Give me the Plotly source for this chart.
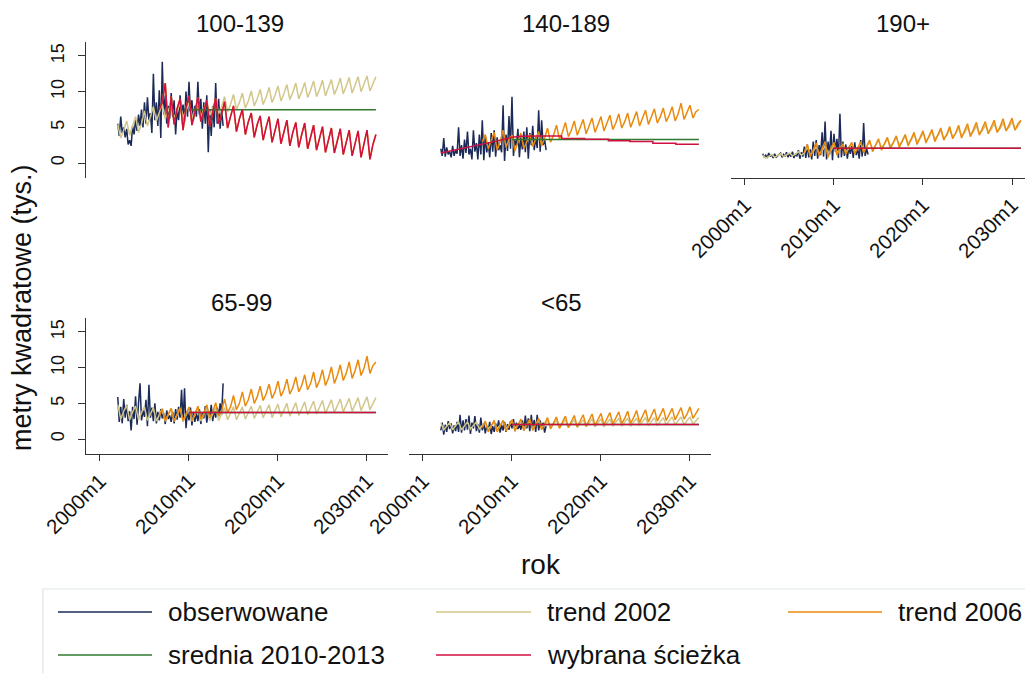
import plotly.graph_objects as go

# ---------------------------------------------------------------------------
# Data: monthly housing area (thousand m2) by size class, observed + scenarios
# observed series: every 2 months from 2002m1; trends: every 4 months
# ---------------------------------------------------------------------------
panels = ["100-139", "140-189", "190+", "65-99", "<65"]

obs_start, obs_step = "2002m1", 2
t2002_start, t2002_step = "2002m1", 4
t2006_start, t2006_step = "2006m9", 4
srednia_dates = ["2010m1", "2031m1"]

obs_100_139 = [5.5, 3.8, 6.5, 4.2, 5.0, 3.6, 4.8, 2.6, 3.2, 2.4, 5.2, 4.0,
               6.0, 4.5, 6.8, 5.2, 7.5, 5.0, 8.5, 5.5, 9.2, 6.0, 7.0, 4.2,
               12.5, 6.0, 8.5, 5.2, 10.2, 3.5, 14.2, 6.8, 9.5, 5.5, 8.0, 6.2,
               9.8, 6.5, 8.8, 4.0, 7.5, 6.0, 9.5, 7.0, 8.2, 5.8, 10.0, 6.5,
               11.4, 7.2, 8.8, 6.0, 8.0, 6.5, 11.4, 6.8, 9.0, 4.8, 8.5, 5.5,
               9.5, 1.5, 7.5, 3.8, 8.0, 5.0, 11.2, 5.5, 9.0, 4.8, 7.5, 5.2]
t2002_100_139 = [5.4, 3.5, 4.6, 5.9, 3.9, 5.1, 6.5, 4.3, 5.5, 7.3, 5.2, 6.5,
                 7.9, 5.9, 7.0, 8.3, 6.2, 7.3, 8.4, 6.3, 7.2, 8.4, 6.4, 7.3,
                 8.4, 6.3, 7.4, 8.6, 6.5, 7.5, 8.8, 6.7, 7.7, 9.0, 6.9, 7.9,
                 9.3, 7.2, 8.2, 9.6, 7.5, 8.5, 9.8, 7.7, 8.7, 10.1, 8.0, 9.0,
                 10.3, 8.2, 9.2, 10.6, 8.5, 9.5, 10.8, 8.7, 9.7, 11.0, 8.9, 9.9,
                 11.2, 9.0, 10.0, 11.3, 9.2, 10.2, 11.5, 9.3, 10.3, 11.6, 9.4, 10.5,
                 11.7, 9.6, 10.6, 11.9, 9.7, 10.8, 12.0, 9.8, 10.9, 12.1, 10.0, 11.0,
                 12.2, 10.1, 11.2, 12.1]
t2006_100_139 = [7.5,
                 8.5, 11.2, 5.0, 9.3, 5.4, 7.6, 9.0, 4.6, 7.8, 9.4, 5.3, 7.2,
                 9.2, 5.8, 7.4, 8.8, 5.1, 7.0, 9.1, 5.5, 6.8, 8.6, 4.9, 6.5,
                 8.0, 4.4, 6.2, 7.5, 4.0, 5.8, 7.0, 3.6, 5.4, 6.6, 3.2, 5.0,
                 6.5, 2.9, 4.7, 6.2, 2.7, 4.4, 6.0, 2.4, 4.3, 5.7, 2.2, 4.0,
                 5.6, 2.0, 3.8, 5.3, 1.8, 3.5, 5.1, 1.5, 3.4, 4.9, 1.4, 3.2,
                 4.8, 1.2, 3.0, 4.6, 1.0, 2.8, 4.5, 0.8, 2.7, 4.6, 0.5, 2.6,
                 4.0]
srednia_100_139 = [7.45, 7.45]
wybrana_100_139 = t2006_100_139

obs_140_189 = [2.0, 1.0, 3.5, 0.9, 2.2, 1.2, 1.6, 0.8, 2.4, 1.0, 1.8, 1.3,
               5.0, 1.0, 2.5, 0.6, 3.3, 1.4, 4.4, 1.2, 2.0, 0.5, 4.6, 1.6,
               2.8, 0.5, 4.0, 1.2, 6.0, 0.4, 3.8, 1.5, 2.9, 0.8, 4.2, 1.6,
               4.6, 0.9, 3.6, 1.8, 2.5, 1.5, 8.1, 0.3, 4.0, 1.7, 6.6, 2.0,
               9.3, 1.0, 3.2, 2.4, 4.8, 0.8, 3.6, 1.9, 4.4, 1.5, 5.0, 0.6,
               4.2, 2.5, 5.2, 1.8, 3.6, 2.1, 7.4, 1.6, 6.0, 2.5, 3.3, 1.8]
t2006_140_189 = [3.0,
                 4.0, 2.0, 3.3, 4.3, 1.8, 3.0, 4.6, 2.2, 3.4, 3.9, 1.7, 3.1,
                 4.2, 2.0, 3.0, 4.0, 2.3, 3.4, 4.4, 2.4, 3.5, 4.9, 2.9, 3.9,
                 5.3, 3.3, 4.3, 5.7, 3.7, 4.6, 5.9, 3.9, 4.9, 6.1, 4.1, 5.1,
                 6.3, 4.3, 5.3, 6.5, 4.5, 5.5, 6.7, 4.7, 5.6, 6.9, 4.9, 5.8,
                 7.0, 5.0, 6.0, 7.2, 5.2, 6.2, 7.4, 5.4, 6.4, 7.6, 5.6, 6.5,
                 7.7, 5.8, 6.7, 7.9, 5.9, 6.9, 8.4, 6.1, 7.1, 8.1, 6.3, 7.2,
                 7.5]
srednia_140_189 = [3.3, 3.3]
wybrana_140_189_dates = ["2002m1", "2003m1", "2004m1", "2005m1", "2006m1",
                         "2007m1", "2008m1", "2009m1", "2010m1", "2011m1",
                         "2012m1", "2013m1", "2015m8", "2015m8", "2018m3",
                         "2018m3", "2020m11", "2020m11", "2023m4", "2023m4",
                         "2025m11", "2025m11", "2028m6", "2028m6", "2031m1"]
wybrana_140_189 = [1.4, 1.65, 1.9, 2.15, 2.4, 2.7, 3.0, 3.3, 3.6, 3.75,
                   3.8, 3.8, 3.8, 3.45, 3.45, 3.32, 3.32, 3.13, 3.13, 3.0,
                   3.0, 2.76, 2.76, 2.62, 2.62]

obs_190 = [1.3, 0.8, 1.1, 0.7, 1.4, 0.9, 1.2, 0.7, 1.3, 0.8, 1.0, 1.2,
           1.4, 0.8, 1.2, 0.9, 1.5, 0.8, 1.3, 0.9, 1.6, 0.7, 1.2, 1.0,
           1.8, 0.6, 1.5, 0.9, 2.3, 0.7, 2.6, 0.8, 1.9, 0.5, 3.0, 1.0,
           3.2, 0.6, 2.5, 1.1, 4.3, 0.9, 5.8, 0.5, 3.0, 1.2, 4.5, 0.4,
           4.1, 1.6, 3.4, 0.7, 6.9, 0.8, 3.0, 1.0, 2.6, 0.6, 2.2, 1.3,
           2.4, 0.7, 2.9, 1.1, 2.0, 0.6, 3.2, 0.9, 5.6, 1.0, 2.0, 1.2]
t2002_190 = [1.1, 0.7, 0.9, 1.2, 0.8, 1.0, 1.3, 0.9, 1.1, 1.4, 1.0, 1.2,
             1.6, 1.1, 1.4, 2.2, 1.2, 1.6, 2.3, 1.3, 1.7, 2.4, 1.4, 1.8,
             2.5, 1.5, 1.9, 2.6, 1.6, 2.0, 2.7, 1.7, 2.1, 2.8, 1.8, 2.2,
             3.0, 2.0, 2.4, 3.2, 2.2, 2.6, 3.4, 2.4, 2.8, 3.6, 2.6, 3.0,
             3.8, 2.8, 3.2, 4.0, 3.0, 3.4, 4.2, 3.2, 3.6, 4.4, 3.4, 3.8,
             4.6, 3.5, 3.9, 4.7, 3.7, 4.1, 4.9, 3.8, 4.2, 5.0, 4.0, 4.4,
             5.2, 4.1, 4.5, 5.3, 4.3, 4.7, 5.5, 4.4, 4.8, 5.6, 4.6, 5.0,
             5.8, 4.7, 5.1, 5.9]
t2006_190 = [1.5,
             2.6, 0.9, 1.9, 2.8, 1.0, 2.0, 3.0, 0.8, 2.1, 2.9, 1.1, 2.0,
             2.7, 1.2, 2.2, 2.9, 1.3, 2.1, 3.0, 1.4, 2.3, 3.2, 1.6, 2.5,
             3.4, 1.8, 2.7, 3.6, 2.0, 2.9, 3.8, 2.2, 3.1, 4.0, 2.4, 3.3,
             4.3, 2.6, 3.5, 4.5, 2.8, 3.7, 4.7, 3.0, 3.9, 4.9, 3.2, 4.0,
             5.1, 3.4, 4.2, 5.3, 3.5, 4.4, 5.5, 3.7, 4.6, 5.7, 3.9, 4.8,
             5.8, 4.1, 5.0, 6.0, 4.3, 5.1, 6.2, 4.5, 5.3, 6.3, 4.6, 5.5,
             6.0]
srednia_190 = [2.06, 2.06]
wybrana_190 = srednia_190

obs_65_99 = [5.9, 2.4, 4.5, 2.2, 5.6, 3.0, 4.8, 2.5, 3.9, 1.2, 4.5, 2.8,
             6.0, 2.0, 5.0, 7.8, 2.6, 4.0, 3.1, 5.5, 1.8, 7.6, 3.0, 4.4,
             2.5, 5.0, 2.2, 3.8, 2.6, 4.2, 2.9, 3.6, 2.1, 4.0, 2.8, 3.3,
             2.4, 3.8, 2.2, 4.2, 2.7, 4.5, 3.0, 6.9, 2.4, 7.1, 1.5, 4.0,
             2.6, 4.4, 1.9, 3.8, 2.4, 3.6, 2.5, 4.2, 2.1, 3.7, 2.9, 4.6,
             2.3, 3.9, 2.8, 4.8, 2.5, 4.1, 3.0, 4.4, 3.2, 5.0, 3.4, 7.8]
t2002_65_99 = [4.8, 2.8, 3.9, 4.7, 2.7, 3.8, 4.6, 2.7, 3.7, 4.5, 2.6, 3.6,
               4.4, 2.5, 3.5, 4.3, 2.5, 3.4, 4.3, 2.5, 3.4, 4.3, 2.4, 3.4,
               4.3, 2.5, 3.4, 4.3, 2.5, 3.4, 4.3, 2.6, 3.5, 4.4, 2.6, 3.5,
               4.4, 2.7, 3.5, 4.5, 2.7, 3.6, 4.5, 2.8, 3.7, 4.6, 2.9, 3.7,
               4.7, 3.0, 3.8, 4.8, 3.0, 3.9, 4.9, 3.1, 4.0, 5.0, 3.2, 4.1,
               5.1, 3.3, 4.2, 5.2, 3.4, 4.3, 5.3, 3.5, 4.4, 5.4, 3.6, 4.5,
               5.5, 3.7, 4.6, 5.6, 3.8, 4.7, 5.7, 3.9, 4.8, 5.8, 4.0, 4.9,
               5.9, 4.1, 5.0, 5.8]
t2006_65_99 = [3.2,
               4.2, 2.5, 3.3, 4.3, 2.5, 3.4, 4.4, 2.6, 3.4, 4.5, 2.6, 3.5,
               4.6, 2.8, 3.6, 4.8, 3.0, 3.8, 5.1, 3.2, 4.0, 5.6, 3.7, 4.5,
               6.1, 4.1, 5.0, 6.6, 4.6, 5.5, 7.0, 5.0, 5.9, 7.4, 5.4, 6.3,
               7.7, 5.7, 6.6, 8.1, 6.0, 6.9, 8.4, 6.3, 7.2, 8.7, 6.6, 7.5,
               9.0, 6.9, 7.8, 9.4, 7.2, 8.2, 9.7, 7.5, 8.5, 10.1, 7.8, 8.9,
               10.4, 8.2, 9.2, 10.8, 8.5, 9.6, 11.1, 8.9, 9.9, 11.6, 9.2, 10.3,
               10.8]
srednia_65_99 = [3.7, 3.7]
wybrana_65_99 = srednia_65_99

obs_lt65 = [1.2, 2.3, 0.6, 2.0, 1.0, 2.5, 1.4, 2.2, 0.8, 1.9, 1.1, 2.4,
            1.0, 3.4, 0.9, 2.6, 1.2, 2.8, 1.3, 3.3, 0.7, 2.3, 1.5, 3.2,
            1.1, 2.1, 0.9, 3.0, 1.2, 2.2, 0.8, 1.9, 1.2, 2.4, 0.7, 1.8,
            1.0, 2.2, 1.4, 2.6, 0.9, 2.0, 1.2, 2.4, 1.0, 2.1, 1.3, 2.5,
            1.5, 2.8, 1.1, 2.3, 1.4, 2.0, 1.3, 2.6, 1.2, 3.3, 1.5, 2.9,
            1.1, 3.4, 1.4, 2.7, 1.0, 3.4, 1.2, 2.6, 1.5, 2.3, 0.9, 1.8]
t2002_lt65 = [2.3, 1.3, 1.8, 2.3, 1.3, 1.8, 2.4, 1.3, 1.8, 2.4, 1.4, 1.9,
              2.4, 1.4, 1.9, 2.4, 1.4, 1.9, 2.4, 1.4, 1.9, 2.5, 1.4, 1.9,
              2.5, 1.5, 2.0, 2.5, 1.5, 2.0, 2.5, 1.5, 2.0, 2.6, 1.5, 2.0,
              2.6, 1.6, 2.1, 2.6, 1.6, 2.1, 2.7, 1.6, 2.1, 2.7, 1.6, 2.2,
              2.7, 1.7, 2.2, 2.8, 1.7, 2.2, 2.8, 1.7, 2.3, 2.8, 1.8, 2.3,
              2.9, 1.8, 2.3, 2.9, 1.8, 2.4, 2.9, 1.9, 2.4, 3.0, 1.9, 2.4,
              3.0, 1.9, 2.5, 3.0, 2.0, 2.5, 3.1, 2.0, 2.5, 3.1, 2.0, 2.6,
              3.1, 2.1, 2.6, 3.0]
t2006_lt65 = [1.6,
              2.5, 1.0, 1.8, 2.6, 1.0, 1.8, 2.6, 1.1, 1.9, 2.7, 1.1, 1.9,
              2.8, 1.2, 2.0, 2.8, 1.2, 2.0, 2.9, 1.3, 2.1, 3.0, 1.4, 2.2,
              3.1, 1.5, 2.3, 3.2, 1.6, 2.4, 3.3, 1.7, 2.5, 3.4, 1.8, 2.6,
              3.5, 1.9, 2.7, 3.6, 2.0, 2.8, 3.7, 2.1, 2.9, 3.8, 2.2, 2.9,
              3.9, 2.2, 3.0, 4.0, 2.3, 3.1, 4.1, 2.4, 3.2, 4.2, 2.5, 3.3,
              4.3, 2.6, 3.4, 4.3, 2.7, 3.5, 4.4, 2.8, 3.5, 4.5, 2.9, 3.6,
              4.3]
srednia_lt65 = [2.05, 2.05]
wybrana_lt65 = srednia_lt65

x_ticks = [2000, 2010, 2020, 2030]
x_ticktext = ["2000m1", "2010m1", "2020m1", "2030m1"]
y_ticks = [0, 5, 10, 15]

series_names = ["obserwowane", "trend 2002", "trend 2006",
                "srednia 2010-2013", "wybrana ścieżka"]
colors = {
    "obserwowane": "#1b2a57",
    "trend 2002": "#d2c68a",
    "trend 2006": "#ea8a0c",
    "srednia 2010-2013": "#2f7a2f",
    "wybrana ścieżka": "#cf1040",
}


def tm(s):
    """Stata-style monthly date string 'YYYYmM' -> fractional year."""
    y, m = s.split("m")
    return int(y) + (int(m) - 1) / 12


def month_axis(start, n, step):
    t0 = tm(start)
    return [t0 + i * step / 12 for i in range(n)]


def regular(start, step, vals):
    return (month_axis(start, len(vals), step), vals)


def dated(dates, vals):
    return ([tm(d) for d in dates], vals)


panel_data = {
    "100-139": {
        "obserwowane": regular(obs_start, obs_step, obs_100_139),
        "trend 2002": regular(t2002_start, t2002_step, t2002_100_139),
        "trend 2006": regular(t2006_start, t2006_step, t2006_100_139),
        "srednia 2010-2013": dated(srednia_dates, srednia_100_139),
        "wybrana ścieżka": regular(t2006_start, t2006_step, wybrana_100_139),
    },
    "140-189": {
        "obserwowane": regular(obs_start, obs_step, obs_140_189),
        "trend 2006": regular(t2006_start, t2006_step, t2006_140_189),
        "srednia 2010-2013": dated(srednia_dates, srednia_140_189),
        "wybrana ścieżka": dated(wybrana_140_189_dates, wybrana_140_189),
    },
    "190+": {
        "obserwowane": regular(obs_start, obs_step, obs_190),
        "trend 2002": regular(t2002_start, t2002_step, t2002_190),
        "trend 2006": regular(t2006_start, t2006_step, t2006_190),
        "srednia 2010-2013": dated(srednia_dates, srednia_190),
        "wybrana ścieżka": dated(srednia_dates, wybrana_190),
    },
    "65-99": {
        "obserwowane": regular(obs_start, obs_step, obs_65_99),
        "trend 2002": regular(t2002_start, t2002_step, t2002_65_99),
        "trend 2006": regular(t2006_start, t2006_step, t2006_65_99),
        "srednia 2010-2013": dated(srednia_dates, srednia_65_99),
        "wybrana ścieżka": dated(srednia_dates, wybrana_65_99),
    },
    "<65": {
        "obserwowane": regular(obs_start, obs_step, obs_lt65),
        "trend 2002": regular(t2002_start, t2002_step, t2002_lt65),
        "trend 2006": regular(t2006_start, t2006_step, t2006_lt65),
        "srednia 2010-2013": dated(srednia_dates, srednia_lt65),
        "wybrana ścieżka": dated(srednia_dates, wybrana_lt65),
    },
}

# ---------------------------------------------------------------------------
# Layout geometry (pixels of a 1025 x 673 canvas)
# ---------------------------------------------------------------------------
W, H = 1025, 673
FONT = "Liberation Sans, Arial, sans-serif"
INK = "#111111"
AXIS = "#333333"


def px(x):
    return x / W


def py(y):
    return 1 - y / H


col_px = [(86, 388), (409, 711), (731, 1025)]
row_px = [(42, 178), (318, 454)]
x_rng_full = [1998.43, 2032.36]
x_rng_edge = [1998.43, 2031.46]
y_rng = [-2.10, 16.96]

# panel -> (row, col, show_y_axis, show_x_axis)
grid = {
    "100-139": (0, 0, True, False),
    "140-189": (0, 1, False, False),
    "190+": (0, 2, False, True),
    "65-99": (1, 0, True, True),
    "<65": (1, 1, False, True),
}
title_pos = {"100-139": (240, 24), "140-189": (566, 24), "190+": (903, 24),
             "65-99": (241, 302), "<65": (561, 302)}

fig = go.Figure()
layout = dict(
    width=W, height=H, autosize=False,
    margin=dict(l=0, r=0, t=0, b=0, pad=0),
    paper_bgcolor="white", plot_bgcolor="white",
    showlegend=False,
    font=dict(family=FONT, color=INK),
)
annotations = []

for i, name in enumerate(panels, start=1):
    row, col, show_y, show_x = grid[name]
    xa = "x" if i == 1 else f"x{i}"
    ya = "y" if i == 1 else f"y{i}"
    for s in series_names:
        if s not in panel_data[name]:
            continue
        xs, ys = panel_data[name][s]
        fig.add_trace(go.Scatter(
            x=xs, y=ys, mode="lines", name=s, xaxis=xa, yaxis=ya,
            line=dict(color=colors[s], width=1.5), hoverinfo="skip",
        ))
    x0, x1 = col_px[col]
    y0, y1 = row_px[row]
    xkey = "xaxis" if i == 1 else f"xaxis{i}"
    ykey = "yaxis" if i == 1 else f"yaxis{i}"
    layout[xkey] = dict(
        domain=[px(x0), px(x1)], anchor=ya, automargin=False,
        range=x_rng_edge if col == 2 else x_rng_full,
        tickvals=x_ticks, ticktext=x_ticktext, tickangle=-45,
        showgrid=False, zeroline=False,
        showline=show_x, linecolor=AXIS, linewidth=1.3,
        ticks="outside" if show_x else "", ticklen=6, tickcolor=AXIS,
        tickwidth=1.3,
        showticklabels=show_x,
        tickfont=dict(family=FONT, size=20.5, color=INK),
    )
    layout[ykey] = dict(
        domain=[py(y1), py(y0)], anchor=xa, automargin=False,
        range=y_rng, tickvals=y_ticks, tickangle=-90,
        showgrid=False, zeroline=False,
        showline=show_y, linecolor=AXIS, linewidth=1.3,
        ticks="outside" if show_y else "", ticklen=7, tickcolor=AXIS,
        tickwidth=1.3, ticklabelstandoff=7,
        showticklabels=show_y,
        tickfont=dict(family=FONT, size=18, color=INK),
    )
    tx, ty = title_pos[name]
    annotations.append(dict(
        x=px(tx), y=py(ty), xref="paper", yref="paper", text=name,
        showarrow=False, xanchor="center", yanchor="middle",
        font=dict(family=FONT, size=24, color=INK),
    ))

# axis titles
annotations.append(dict(
    x=px(22), y=py(308), xref="paper", yref="paper",
    text="metry kwadratowe (tys.)", textangle=-90, showarrow=False,
    xanchor="center", yanchor="middle",
    font=dict(family=FONT, size=27, color=INK),
))
annotations.append(dict(
    x=px(541), y=py(564), xref="paper", yref="paper", text="rok",
    showarrow=False, xanchor="center", yanchor="middle",
    font=dict(family=FONT, size=28, color=INK),
))

# legend box with two rows of keys
shapes = [dict(type="rect", xref="paper", yref="paper",
               x0=px(43), x1=px(1030), y0=py(690), y1=py(589),
               line=dict(color="#dfe5e5", width=1.2), fillcolor="white",
               layer="below")]
legend_slots = [
    ("obserwowane", 58, 152, 612),
    ("trend 2002", 436, 531, 612),
    ("trend 2006", 788, 882, 612),
    ("srednia 2010-2013", 58, 152, 655),
    ("wybrana ścieżka", 436, 531, 655),
]
for s, lx0, lx1, ly in legend_slots:
    shapes.append(dict(type="line", xref="paper", yref="paper",
                       x0=px(lx0), x1=px(lx1), y0=py(ly), y1=py(ly),
                       line=dict(color=colors[s], width=1.3)))
    annotations.append(dict(
        x=px(lx1 + 14), y=py(ly), xref="paper", yref="paper", text=s,
        showarrow=False, xanchor="left", yanchor="middle",
        font=dict(family=FONT, size=26, color=INK),
    ))

layout["annotations"] = annotations
layout["shapes"] = shapes
fig.update_layout(**layout)
fig.write_html("out.html")
